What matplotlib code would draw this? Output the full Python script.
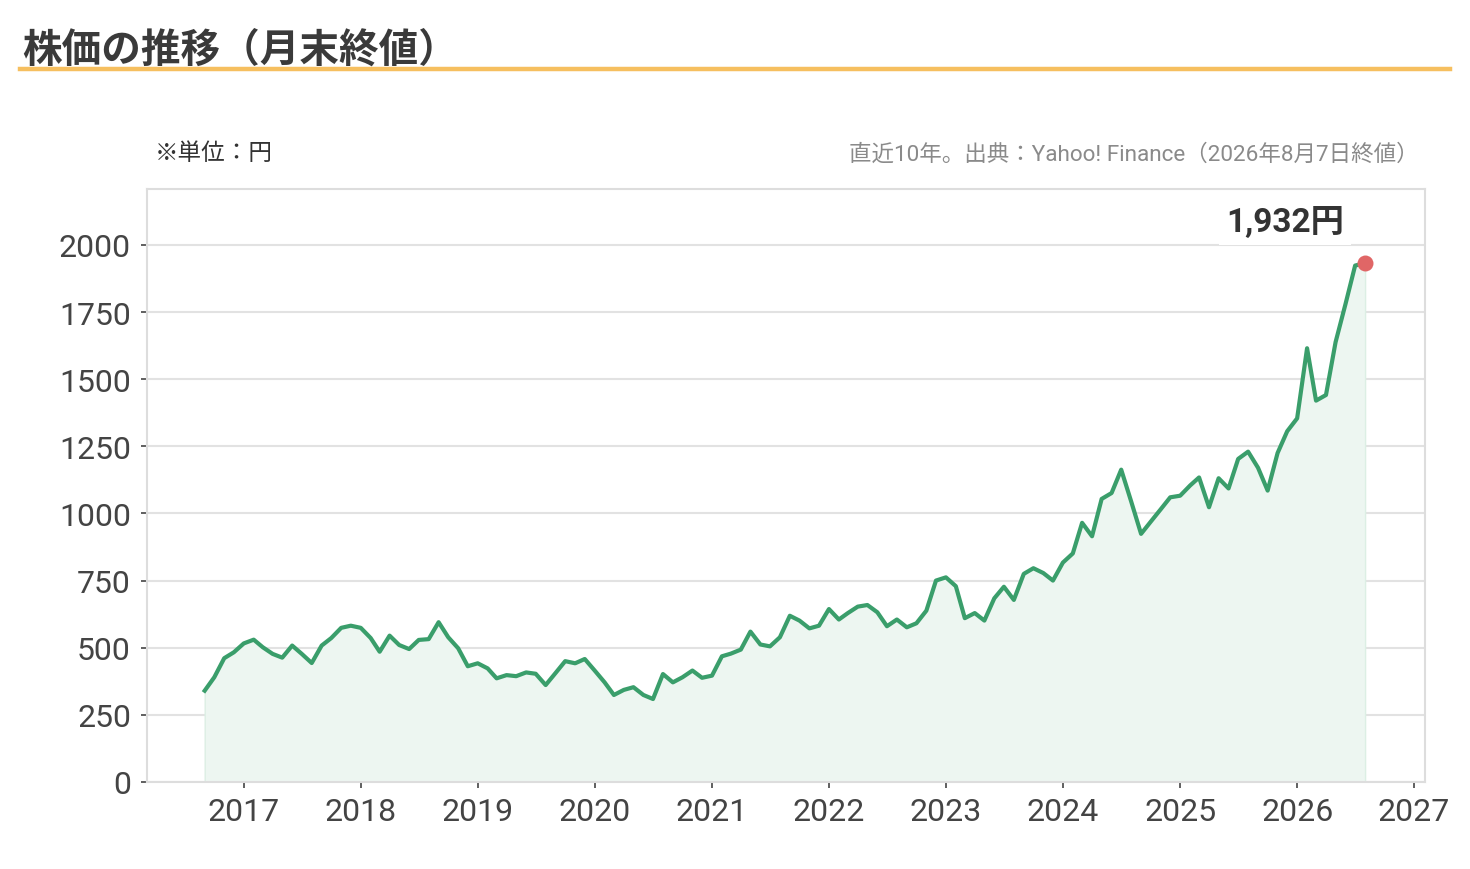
import matplotlib
matplotlib.use("Agg")
import matplotlib.pyplot as plt
import pandas as pd

plt.rcParams['font.family'] = ['Noto Sans CJK JP', 'DejaVu Sans']
LATIN = ['Roboto', 'Noto Sans CJK JP', 'DejaVu Sans']

# ---- data ----
start_month = "2016-09-01"
prices = [
    340, 390, 461, 483, 516, 530, 502, 477, 463, 508, 477, 443,
    508, 536, 574, 582, 574, 536, 485, 545, 510, 495, 529, 532,
    595, 539, 498, 431, 442, 423, 386, 398, 394, 408, 403, 361,
    406, 450, 442, 458, 415, 371, 324, 343, 353, 324, 309, 402,
    371, 390, 415, 388, 396, 468, 478, 493, 560, 512, 505, 539,
    619, 601, 572, 582, 644, 605, 629, 653, 659, 632, 580, 605,
    576, 591, 638, 750, 762, 729, 610, 629, 601, 684, 727, 678,
    775, 796, 778, 750, 817, 851, 965, 915, 1054, 1076, 1163, 1045,
    924, 969, 1015, 1060, 1066, 1104, 1134, 1023, 1131, 1093, 1203, 1230,
    1170, 1085, 1225, 1306, 1354, 1615, 1420, 1441, 1638, 1780, 1923, 1932,
]
y_ticks = [0, 250, 500, 750, 1000, 1250, 1500, 1750, 2000]
x_years = list(range(2017, 2028))
title = "株価の推移（月末終値）"
unit_note = "※単位：円"
source_note = "直近10年。出典：Yahoo! Finance（2026年8月7日終値）"
last_label = "1,932円"

dates = pd.date_range(start_month, periods=len(prices), freq="MS")

# ---- figure ----
fig = plt.figure(figsize=(14.7, 8.7), dpi=100)
ax = fig.add_axes([147/1470, 87/870, (1425-147)/1470, (783-190)/870])

green = "#3a9e6b"
ax.fill_between(dates, prices, 0, color="#edf6f1", edgecolor="#dcefe4", linewidth=1, zorder=1)
ax.plot(dates, prices, color=green, linewidth=3.0, solid_joinstyle="round", zorder=3)
ax.plot(dates[-1], prices[-1], "o", color="#e06666", markersize=11.5, zorder=4, markeredgewidth=0)

ax.annotate(last_label, xy=(dates[-1], prices[-1]), xytext=(-21, 41),
            textcoords="offset pixels", ha="right", va="center",
            fontsize=24, fontweight="bold", color="#333333", zorder=5, family=LATIN,
            bbox=dict(boxstyle="square,pad=0.2", facecolor="white", edgecolor="none"))

ax.set_ylim(0, 2208)
ax.set_xlim(pd.Timestamp("2016-03-05"), pd.Timestamp("2027-02-04"))
ax.set_yticks(y_ticks)
ax.set_yticklabels([str(v) for v in y_ticks])
ax.set_xticks([pd.Timestamp(f"{y}-01-01") for y in x_years])
ax.set_xticklabels([str(y) for y in x_years])
for lbl in ax.get_xticklabels() + ax.get_yticklabels():
    lbl.set_family(LATIN)

ax.grid(axis="y", color="#e2e2e2", linewidth=1.5, zorder=0)
ax.set_axisbelow(True)
for s in ax.spines.values():
    s.set_color("#dddddd")
    s.set_linewidth(1.5)
ax.tick_params(axis="both", colors="#444444", labelsize=23, length=4.5, width=1.2, pad=6)
ax.tick_params(axis="y", pad=7)

# ---- header ----
fig.text(22/1470, 1 - 50/870, title, fontsize=28.5, fontweight="bold", color="#3a3a3a",
         ha="left", va="center")
fig.add_artist(plt.Line2D([20/1470, 1450/1470], [1 - 70/870, 1 - 70/870],
                          color="#f6bf5f", linewidth=3.2, transform=fig.transFigure))
fig.text(155/1470, 1 - 154/870, unit_note, fontsize=17, color="#333333", ha="left", va="center")
fig.text(1419/1470, 1 - 155/870, source_note, fontsize=16.2, color="#8a8a8a", ha="right", va="center",
         family=LATIN)

fig.savefig("out.png", dpi=100)
